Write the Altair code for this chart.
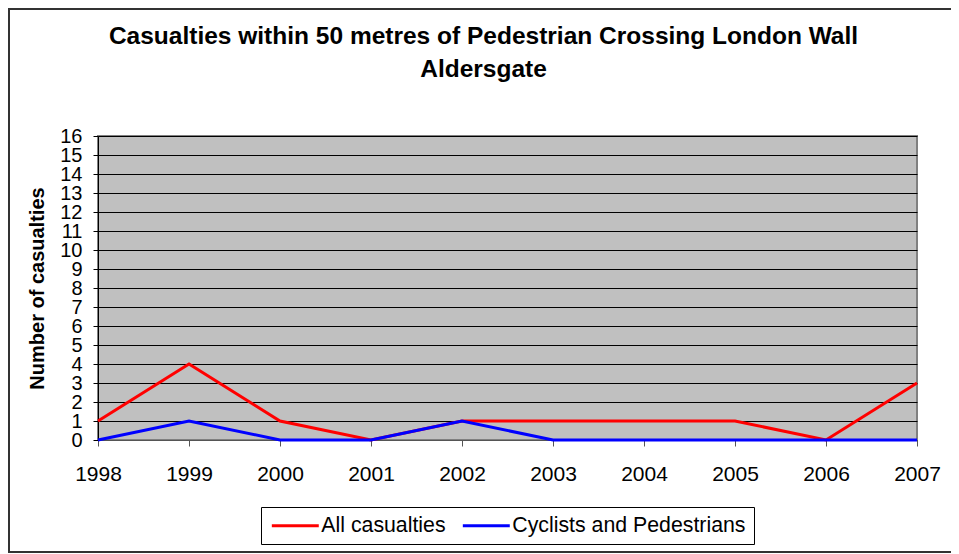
import altair as alt
import pandas as pd

years = ["1998", "1999", "2000", "2001", "2002", "2003", "2004", "2005", "2006", "2007"]
all_casualties = [1, 4, 1, 0, 1, 1, 1, 1, 0, 3]
cyclists_pedestrians = [0, 1, 0, 0, 1, 0, 0, 0, 0, 0]
series_names = ["All casualties", "Cyclists and Pedestrians"]
series_colors = ["#FF0000", "#0000FF"]
y_ticks = list(range(0, 17))
title_lines = ["Casualties within 50 metres of Pedestrian Crossing London Wall", "Aldersgate"]

rows = []
for i, yr in enumerate(years):
    rows.append({"year": yr, "series": series_names[0], "value": all_casualties[i]})
for i, yr in enumerate(years):
    rows.append({"year": yr, "series": series_names[1], "value": cyclists_pedestrians[i]})
df = pd.DataFrame(rows)

FONT = "Liberation Sans"
one = pd.DataFrame({"k": [0]})

border = alt.Chart(one).mark_rect(
    fill="transparent", stroke="#333333", strokeWidth=2
).encode(
    x=alt.value(-89), x2=alt.value(880), y=alt.value(-127), y2=alt.value(416)
)

title1 = alt.Chart(one).mark_text(
    font=FONT, fontSize=24.5, fontWeight="bold", color="#000", align="center",
    baseline="alphabetic"
).encode(x=alt.value(385.5), y=alt.value(-92), text=alt.value(title_lines[0]))

title2 = alt.Chart(one).mark_text(
    font=FONT, fontSize=24.5, fontWeight="bold", color="#000", align="center",
    baseline="alphabetic"
).encode(x=alt.value(385.5), y=alt.value(-59), text=alt.value(title_lines[1]))

lines = alt.Chart(df).mark_line(strokeWidth=3, strokeJoin="miter").encode(
    x=alt.X("year:N", scale=alt.Scale(type="point", padding=0, domain=years),
            axis=alt.Axis(title=None, labelAngle=0, labelFont=FONT, labelFontSize=21,
                          labelColor="#000", tickSize=6, tickColor="#555", labelPadding=17,
                          domainColor="#555", grid=False)),
    y=alt.Y("value:Q", scale=alt.Scale(domain=[0, 16], nice=False, zero=True),
            axis=alt.Axis(title="Number of casualties", values=y_ticks, labelFont=FONT,
                          labelFontSize=20, labelColor="#000", tickSize=5, tickColor="#000",
                          labelPadding=11, domainColor="#000", grid=True, gridColor="#000",
                          gridWidth=1, gridOpacity=1, titleFont=FONT, titleFontSize=20,
                          titleFontWeight="bold", titleColor="#000", titleAngle=270,
                          titleBaseline="alphabetic", titleX=-55, titleY=152,
                          titleAlign="center", labelOverlap=False)),
    color=alt.Color("series:N", scale=alt.Scale(domain=series_names, range=series_colors),
                    legend=alt.Legend(title=None, orient="none", direction="horizontal",
                                      legendX=163, legendY=371, symbolType="M-1,0H5",
                                      symbolSize=245, symbolStrokeWidth=3,
                                      labelFont=FONT, labelFontSize=21.3, labelColor="#000",
                                      labelOffset=31, labelLimit=0, columnPadding=10,
                                      padding=8, strokeColor="#000", fillColor="#fff")),
)

chart = alt.layer(border, title1, title2, lines).properties(
    width=819,
    height=304,
    autosize=alt.AutoSizeParams(type="none"),
    padding={"left": 90, "top": 128, "right": 34, "bottom": 114},
    background="#ffffff",
).configure_view(fill="#C0C0C0", stroke="#808080", strokeWidth=2)

chart.save("out.html", embed_options={"renderer": "svg", "actions": False})
